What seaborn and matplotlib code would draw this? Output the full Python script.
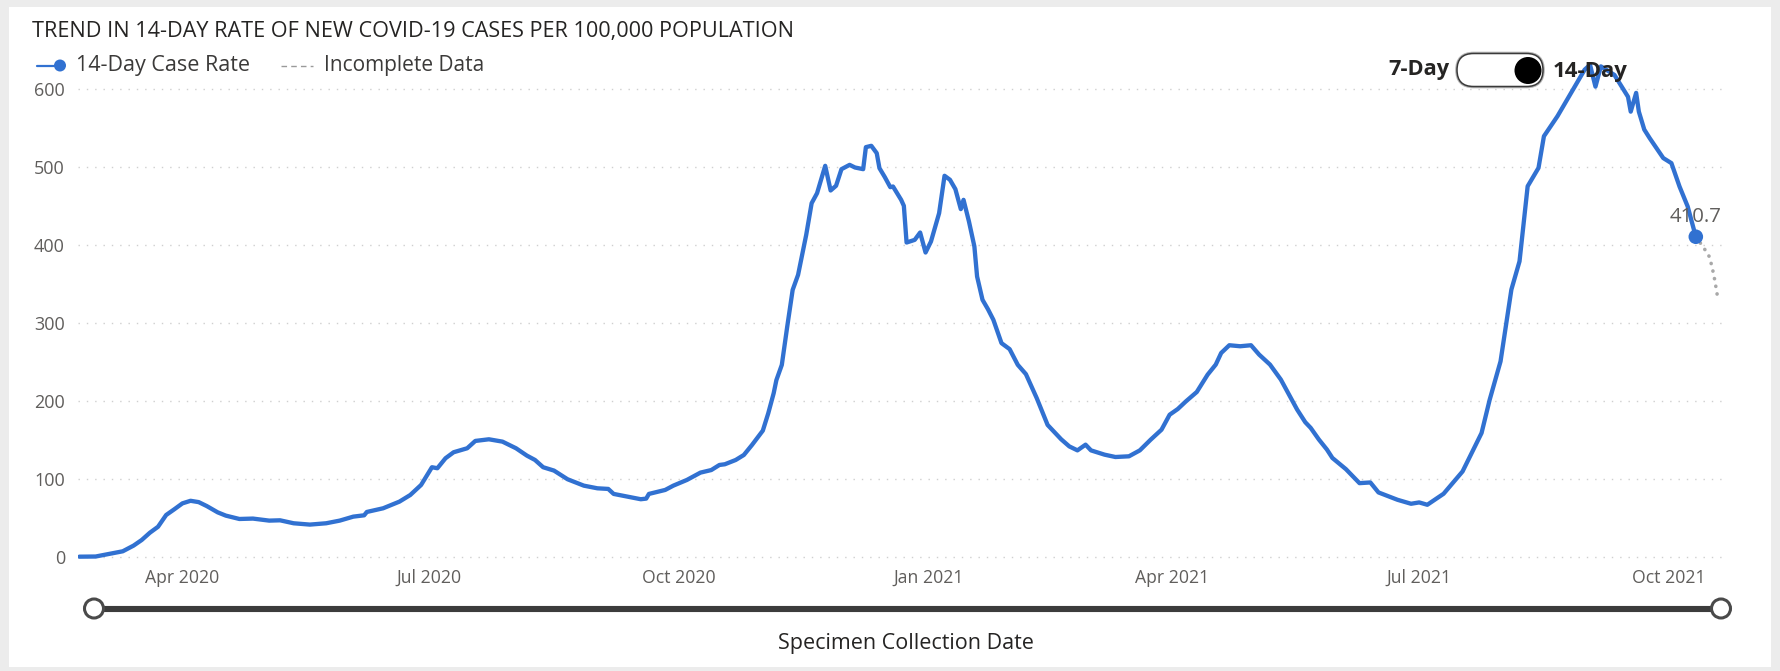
import matplotlib
matplotlib.use("Agg")
import matplotlib.pyplot as plt
import pandas as pd
import seaborn as sns
from matplotlib.patches import FancyBboxPatch, Circle, Rectangle
from matplotlib.lines import Line2D

# ---------------------------------------------------------------- data
case_dates = [
    "2020-02-23", "2020-02-29", "2020-03-06", "2020-03-10", "2020-03-14", "2020-03-17",
    "2020-03-20", "2020-03-23", "2020-03-26", "2020-03-29", "2020-04-01", "2020-04-04",
    "2020-04-07", "2020-04-10", "2020-04-14", "2020-04-17", "2020-04-22", "2020-04-27",
    "2020-05-03", "2020-05-07", "2020-05-12", "2020-05-18", "2020-05-24", "2020-05-29",
    "2020-06-03", "2020-06-07", "2020-06-08", "2020-06-14", "2020-06-20", "2020-06-24",
    "2020-06-28", "2020-07-02", "2020-07-04", "2020-07-07", "2020-07-10", "2020-07-15",
    "2020-07-18", "2020-07-23", "2020-07-28", "2020-08-02", "2020-08-06", "2020-08-09",
    "2020-08-12", "2020-08-16", "2020-08-21", "2020-08-27", "2020-09-01", "2020-09-05",
    "2020-09-07", "2020-09-12", "2020-09-17", "2020-09-19", "2020-09-20", "2020-09-26",
    "2020-09-29", "2020-10-04", "2020-10-09", "2020-10-13", "2020-10-16", "2020-10-18",
    "2020-10-22", "2020-10-25", "2020-10-28", "2020-11-01", "2020-11-03", "2020-11-05",
    "2020-11-06", "2020-11-08", "2020-11-10", "2020-11-12", "2020-11-14", "2020-11-17",
    "2020-11-19", "2020-11-21", "2020-11-24", "2020-11-26", "2020-11-28", "2020-11-30",
    "2020-12-03", "2020-12-05", "2020-12-08", "2020-12-09", "2020-12-11", "2020-12-13",
    "2020-12-14", "2020-12-16", "2020-12-18", "2020-12-19", "2020-12-22", "2020-12-23",
    "2020-12-24", "2020-12-27", "2020-12-29", "2020-12-31", "2021-01-02", "2021-01-05",
    "2021-01-07", "2021-01-09", "2021-01-11", "2021-01-13", "2021-01-14", "2021-01-16",
    "2021-01-18", "2021-01-19", "2021-01-21", "2021-01-23", "2021-01-25", "2021-01-28",
    "2021-01-31", "2021-02-03", "2021-02-06", "2021-02-10", "2021-02-14", "2021-02-19",
    "2021-02-22", "2021-02-25", "2021-02-28", "2021-03-02", "2021-03-07", "2021-03-11",
    "2021-03-16", "2021-03-20", "2021-03-24", "2021-03-28", "2021-03-31", "2021-04-03",
    "2021-04-06", "2021-04-10", "2021-04-14", "2021-04-17", "2021-04-19", "2021-04-22",
    "2021-04-26", "2021-04-30", "2021-05-03", "2021-05-07", "2021-05-11", "2021-05-14",
    "2021-05-17", "2021-05-20", "2021-05-22", "2021-05-25", "2021-05-28", "2021-05-30",
    "2021-06-04", "2021-06-09", "2021-06-13", "2021-06-16", "2021-06-23", "2021-06-28",
    "2021-07-01", "2021-07-04", "2021-07-10", "2021-07-17", "2021-07-24", "2021-07-27",
    "2021-07-31", "2021-08-04", "2021-08-07", "2021-08-10", "2021-08-14", "2021-08-16",
    "2021-08-21", "2021-08-26", "2021-08-31", "2021-09-02", "2021-09-04", "2021-09-06",
    "2021-09-11", "2021-09-16", "2021-09-17", "2021-09-19", "2021-09-20", "2021-09-22",
    "2021-09-24", "2021-09-29", "2021-10-02", "2021-10-05", "2021-10-08", "2021-10-11",
]
case_rate = [
    0.8, 1.0, 5.0, 7.7, 15.0, 22.2,
    31.5, 39.1, 54.2, 61.5, 69.1, 72.4,
    70.7, 65.6, 57.6, 53.4, 49.1, 49.6,
    47.0, 47.4, 43.6, 41.9, 43.6, 47.0,
    52.1, 53.8, 58.1, 62.8, 71.3, 79.8,
    92.7, 115.4, 114.1, 126.9, 134.6, 139.7,
    149.1, 151.2, 148.2, 139.7, 130.3, 124.7,
    115.4, 111.1, 100.0, 91.8, 88.4, 87.6,
    81.2, 77.8, 74.4, 75.2, 81.2, 86.3,
    91.8, 99.1, 108.5, 111.8, 118.3, 119.2,
    124.7, 131.1, 143.9, 162.3, 184.5, 210.2,
    227.0, 246.5, 295.6, 342.6, 361.9, 413.2,
    453.7, 466.5, 501.6, 470.0, 476.0, 497.3,
    502.8, 499.4, 497.3, 525.5, 527.2, 517.8,
    498.6, 487.0, 474.2, 475.1, 458.0, 450.3,
    403.3, 406.7, 416.1, 390.5, 404.6, 440.9,
    488.8, 483.7, 471.7, 446.1, 458.0, 430.3,
    398.3, 359.8, 329.9, 317.9, 304.3, 274.4,
    266.7, 246.6, 234.7, 203.9, 169.6, 151.2,
    142.1, 137.0, 144.3, 137.0, 131.5, 128.5,
    129.4, 137.0, 150.7, 163.5, 182.7, 190.0,
    199.8, 211.8, 234.0, 246.9, 261.8, 271.7,
    270.4, 271.7, 259.7, 246.9, 227.7, 208.5,
    189.3, 173.1, 165.8, 151.0, 138.0, 127.3,
    112.9, 95.0, 95.9, 83.1, 73.7, 68.6,
    70.3, 67.3, 81.4, 110.0, 159.2, 201.9,
    251.0, 343.0, 379.2, 475.4, 498.9, 539.5,
    565.2, 594.9, 624.7, 631.0, 603.0, 629.0,
    618.0, 590.0, 571.0, 595.0, 571.0, 548.0,
    537.0, 511.5, 505.0, 475.0, 449.5, 410.7,
]
incomplete_dates = [
    "2021-10-11", "2021-10-12", "2021-10-13", "2021-10-14", "2021-10-15",
    "2021-10-16", "2021-10-17", "2021-10-18", "2021-10-19",
]
incomplete_rate = [410.7, 406.0, 401.0, 396.0, 391.0, 385.0, 372.0, 355.0, 334.0]

y_ticks = [0, 100, 200, 300, 400, 500, 600]
x_tick_dates = ["2020-04-01", "2020-07-01", "2020-10-01", "2021-01-01",
                "2021-04-01", "2021-07-01", "2021-10-01"]

title_text = "TREND IN 14-DAY RATE OF NEW COVID-19 CASES PER 100,000 POPULATION"
series_label = "14-Day Case Rate"
incomplete_label = "Incomplete Data"
x_axis_title = "Specimen Collection Date"
toggle_left, toggle_right = "7-Day", "14-Day"

# ---------------------------------------------------------------- style
BLUE = "#3171D1"
GREY_DOTS = "#a8a8a8"
TEXT_DARK = "#252423"
TEXT_GREY = "#605E5C"
GRID = "#cfcfcf"

W, H = 1781, 671
sns.set_theme(style="white")
plt.rcParams["font.family"] = ["Open Sans", "DejaVu Sans"]

fig = plt.figure(figsize=(W / 100, H / 100), dpi=100, facecolor="#ececec")
renderer = fig.canvas.get_renderer()


def size_for(text, target_px, weight="normal"):
    """Font size (pt) that makes `text` span target_px pixels."""
    t = fig.text(0, 0, text, fontsize=20, weight=weight)
    w = t.get_window_extent(renderer=renderer).width
    t.remove()
    return 20 * target_px / w


# decoration layer in pixel coordinates (origin top-left)
deco = fig.add_axes([0, 0, 1, 1], zorder=0)
deco.set_xlim(0, W)
deco.set_ylim(H, 0)
deco.axis("off")
deco.add_patch(Rectangle((9, 7), 1762, 660, facecolor="white", edgecolor="none"))

# ---------------------------------------------------------------- chart axes
y0_px, y600_px = 557.3, 89.0
unit_px = (y0_px - y600_px) / 600.0
ylo, yhi = -5, 650
bottom_px = y0_px - ylo * unit_px
top_px = y0_px - yhi * unit_px
left_px, right_px = 78, 1727
ax = fig.add_axes([left_px / W, 1 - bottom_px / H,
                   (right_px - left_px) / W, (bottom_px - top_px) / H], zorder=2)
ax.patch.set_alpha(0)

cases = pd.DataFrame({"date": pd.to_datetime(case_dates), "rate": case_rate})
tail = pd.DataFrame({"date": pd.to_datetime(incomplete_dates), "rate": incomplete_rate})

sns.lineplot(data=tail, x="date", y="rate", ax=ax, color=GREY_DOTS, lw=2.6,
             linestyle=(0, (0.05, 2.1)), dash_capstyle="round", zorder=3)
sns.lineplot(data=cases, x="date", y="rate", ax=ax, color=BLUE, lw=3.1,
             solid_joinstyle="round", solid_capstyle="round", zorder=4)
last = cases.iloc[-1]
sns.scatterplot(x=[last["date"]], y=[last["rate"]], ax=ax, color=BLUE, s=110,
                edgecolor="none", zorder=5)
ax.annotate(f"{last['rate']:.1f}", xy=(last["date"], last["rate"]),
            xytext=(0, 20), textcoords="offset pixels", ha="center", va="center",
            color=TEXT_GREY, fontsize=size_for("410.7", 52), zorder=6)

ax.set_xlim(pd.Timestamp("2020-02-22 12:00"), pd.Timestamp("2021-10-22 12:00"))
ax.set_ylim(ylo, yhi)
ax.set_yticks(y_ticks)
ax.set_yticklabels([str(v) for v in y_ticks])
xt = pd.to_datetime(x_tick_dates)
ax.set_xticks(xt)
ax.set_xticklabels([d.strftime("%b %Y") for d in xt])
ax.set_xlabel("")
ax.set_ylabel("")
for s in ax.spines.values():
    s.set_visible(False)
ax.grid(False)
ax.yaxis.grid(True, color=GRID, lw=1.0, linestyle=(0, (1, 5)))
ax.tick_params(axis="y", length=0, pad=9.4, labelsize=size_for("600", 31),
               labelcolor=TEXT_GREY)
ax.tick_params(axis="x", length=0, pad=5.4, labelsize=size_for("Apr 2020", 74),
               labelcolor=TEXT_GREY)

# ---------------------------------------------------------------- header
fig.text(32 / W, 1 - 31 / H, title_text, ha="left", va="center", color=TEXT_DARK,
         fontsize=size_for(title_text, 763))

leg_y = 65.5
deco.add_line(Line2D([37, 60], [leg_y, leg_y], color=BLUE, lw=1.6))
deco.add_patch(Circle((60, leg_y), 6, facecolor=BLUE, edgecolor="none"))
fig.text(76 / W, 1 - leg_y / H, series_label, ha="left", va="center",
         color="#3b3a39", fontsize=size_for(series_label, 173))
deco.add_line(Line2D([281, 313], [leg_y, leg_y], color="#9a9a9a", lw=1.0,
                     linestyle=(0, (4, 3))))
fig.text(324 / W, 1 - leg_y / H, incomplete_label, ha="left", va="center",
         color="#3b3a39", fontsize=size_for(incomplete_label, 160))

# toggle control
deco.add_patch(FancyBboxPatch((1457, 53.5), 86, 33,
                              boxstyle="round,pad=0,rounding_size=16.5",
                              facecolor="white", edgecolor="#b5b5b5", lw=2.6, zorder=1))
deco.add_patch(FancyBboxPatch((1457, 53.5), 86, 33,
                              boxstyle="round,pad=0,rounding_size=16.5",
                              facecolor="white", edgecolor="#3a3a3a", lw=1.1, zorder=2))
deco.add_patch(Circle((1528, 70.5), 13.5, facecolor="black", edgecolor="none", zorder=3))
tog = fig.add_axes([0, 0, 1, 1], zorder=5)
tog.set_xlim(0, W)
tog.set_ylim(H, 0)
tog.axis("off")
tog.text(1450, 70, toggle_left, ha="right", va="center", weight="bold",
         color=TEXT_DARK, fontsize=size_for(toggle_left, 61, "bold"))
tog.text(1553, 71, toggle_right, ha="left", va="center", weight="bold",
         color=TEXT_DARK, fontsize=size_for(toggle_right, 75, "bold"))

# ---------------------------------------------------------------- range slider
slider_y = 608.5
deco.add_line(Line2D([94, 1721], [slider_y, slider_y], color="#3c3c3c", lw=4.4,
                     solid_capstyle="butt"))
for cx in (94, 1721):
    deco.add_patch(Circle((cx, slider_y), 9.5, facecolor="white", edgecolor="#4a4a4a",
                          lw=2.2, zorder=4))
fig.text(906 / W, 1 - 644 / H, x_axis_title, ha="center", va="center",
         color=TEXT_DARK, fontsize=size_for(x_axis_title, 255))

fig.savefig("out.png", dpi=100, facecolor=fig.get_facecolor())
